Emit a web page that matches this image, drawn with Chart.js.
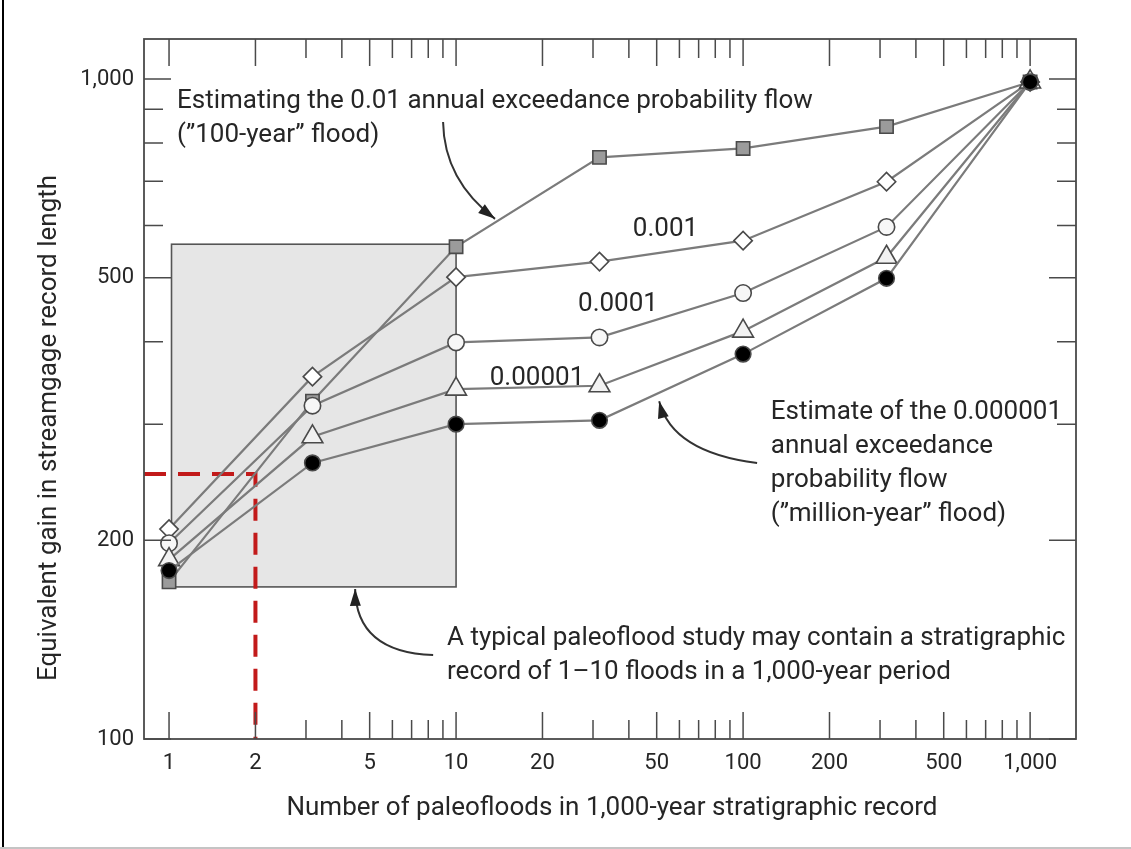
<!DOCTYPE html>
<html>
<head>
<meta charset="utf-8">
<style>
  html, body { margin: 0; padding: 0; background: #fff; }
  #wrap { position: relative; width: 1131px; height: 849px; }
</style>
<script src="https://cdn.jsdelivr.net/npm/chart.js@4.4.1/dist/chart.umd.min.js"></script>
</head>
<body>
<div id="wrap"><canvas id="paleoChart" width="1131" height="849"></canvas></div>
<script>
// number of paleofloods (x) and equivalent gain (y) for each exceedance probability
const floodCounts = [1, 3.16, 10, 31.6, 100, 316, 1000];
const gainAep01 = [173, 325, 557, 761, 785, 847, 990];
const gainAep001 = [208, 354, 501, 529, 569, 699, 990];
const gainAep0001 = [198, 320, 399, 406, 474, 597, 990];
const gainAep00001 = [187, 287, 339, 343, 415, 537, 990];
const gainAep000001 = [180, 262, 300, 304, 383, 499, 990];
const seriesLabels = ["0.01", "0.001", "0.0001", "0.00001", "0.000001"];

// typical paleoflood study box and red reference line
const studyBoxX = [1.02, 10];
const studyBoxY = [170, 562];
const refFloods = 2;
const refGain = 252;

// axes
const xMin = 0.818, xMax = 1445;
const yMin = 100, yMax = 1150;
const xMajorTicks = [1, 2, 5, 10, 20, 50, 100, 200, 500, 1000];
const xTickLabels = ["1", "2", "5", "10", "20", "50", "100", "200", "500", "1,000"];
const xMinorTicks = [3, 4, 6, 7, 8, 9, 30, 40, 60, 70, 80, 90, 300, 400, 600, 700, 800, 900];
const yMajorTicks = [100, 200, 500, 1000];
const yTickLabels = ["100", "200", "500", "1,000"];
const yMinorTicks = [300, 400, 600, 700, 800, 900];

const FONT = "Roboto, 'Liberation Sans', sans-serif";
const TEXT = "#262626";
const LINE = "#7b7b7b";
const EDGE = "#4a4a4a";

// annotations, anchored in data space
const notes = [
    { x: 1.066, y: 924, lines: ["Estimating the 0.01 annual exceedance probability flow", "(\u201d100-year\u201d flood)"] },
    { x: 41.3, y: 591, lines: ["0.001"] },
    { x: 26.6, y: 455, lines: ["0.0001"] },
    { x: 13.1, y: 352, lines: ["0.00001"] },
    { x: 124.9, y: 312, lines: ["Estimate of the 0.000001", "annual exceedance", "probability flow", "(\u201dmillion-year\u201d flood)"] },
    { x: 9.3, y: 142, lines: ["A typical paleoflood study may contain a stratigraphic", "record of 1\u201310 floods in a 1,000-year period"] }
];
const arrows = [
    { from: [9.01, 861], ctrl: [9.08, 703], to: [13.67, 614] },
    { from: [111.9, 262], ctrl: [56.6, 272], to: [51.0, 325] },
    { from: [8.32, 134], ctrl: [4.48, 135.4], to: [4.45, 168.8] }
];

function toPoints(values) {
    return floodCounts.map((x, i) => ({ x: x, y: values[i] }));
}

// lower order is drawn on top, so the black dots end up above the others
function seriesDataset(label, values, style, radius, fillColor, order) {
    return {
        label: label,
        data: toPoints(values),
        borderColor: LINE,
        borderWidth: 2.2,
        fill: false,
        tension: 0,
        pointStyle: style,
        pointRadius: radius,
        pointBackgroundColor: fillColor,
        pointBorderColor: EDGE,
        pointBorderWidth: 1.6,
        order: order
    };
}

const studyBoxPlugin = {
    id: "studyBox",
    beforeDatasetsDraw(chart) {
        const { ctx, scales: { x, y } } = chart;
        const x0 = x.getPixelForValue(studyBoxX[0]);
        const x1 = x.getPixelForValue(studyBoxX[1]);
        const y0 = y.getPixelForValue(studyBoxY[1]);
        const y1 = y.getPixelForValue(studyBoxY[0]);
        ctx.save();
        ctx.fillStyle = "#e6e6e6";
        ctx.fillRect(x0, y0, x1 - x0, y1 - y0);
        ctx.strokeStyle = "#555";
        ctx.lineWidth = 1.6;
        ctx.strokeRect(x0, y0, x1 - x0, y1 - y0);
        ctx.restore();
    }
};

function drawArrow(ctx, p0, c, p1) {
    ctx.beginPath();
    ctx.moveTo(p0[0], p0[1]);
    ctx.quadraticCurveTo(c[0], c[1], p1[0], p1[1]);
    ctx.stroke();
    const ang = Math.atan2(p1[1] - c[1], p1[0] - c[0]);
    const len = 17, half = 5.5;
    const bx = p1[0] - len * Math.cos(ang), by = p1[1] - len * Math.sin(ang);
    ctx.beginPath();
    ctx.moveTo(p1[0], p1[1]);
    ctx.lineTo(bx + half * Math.sin(ang), by - half * Math.cos(ang));
    ctx.lineTo(bx - half * Math.sin(ang), by + half * Math.cos(ang));
    ctx.closePath();
    ctx.fill();
}

const framePlugin = {
    id: "frame",
    afterDraw(chart) {
        const { ctx, chartArea: a, scales: { x, y } } = chart;
        ctx.save();

        // plot border and inward ticks on all four sides
        ctx.strokeStyle = EDGE;
        ctx.lineWidth = 1.8;
        ctx.strokeRect(a.left, a.top, a.right - a.left, a.bottom - a.top);
        ctx.lineWidth = 1.5;
        const tick = (vals, len) => {
            vals.forEach(v => {
                const px = x.getPixelForValue(v);
                ctx.beginPath();
                ctx.moveTo(px, a.bottom); ctx.lineTo(px, a.bottom - len);
                ctx.moveTo(px, a.top); ctx.lineTo(px, a.top + len);
                ctx.stroke();
            });
        };
        const ytick = (vals, len) => {
            vals.forEach(v => {
                const py = y.getPixelForValue(v);
                ctx.beginPath();
                ctx.moveTo(a.left, py); ctx.lineTo(a.left + len, py);
                ctx.moveTo(a.right, py); ctx.lineTo(a.right - len, py);
                ctx.stroke();
            });
        };
        tick(xMajorTicks, 27);
        tick(xMinorTicks, 19);
        ytick(yMajorTicks, 27);
        ytick(yMinorTicks, 19);

        // annotation text
        ctx.fillStyle = TEXT;
        ctx.font = "26px " + FONT;
        ctx.textAlign = "left";
        ctx.textBaseline = "middle";
        notes.forEach(n => {
            const px = x.getPixelForValue(n.x);
            const py = y.getPixelForValue(n.y);
            n.lines.forEach((t, i) => ctx.fillText(t, px, py + i * 34));
        });

        // arrows
        ctx.strokeStyle = "#333";
        ctx.fillStyle = "#222";
        ctx.lineWidth = 2;
        arrows.forEach(ar => {
            const p = v => [x.getPixelForValue(v[0]), y.getPixelForValue(v[1])];
            drawArrow(ctx, p(ar.from), p(ar.ctrl), p(ar.to));
        });

        // axis titles
        ctx.fillStyle = TEXT;
        ctx.font = "26px " + FONT;
        ctx.textAlign = "center";
        ctx.textBaseline = "middle";
        ctx.fillText("Number of paleofloods in 1,000-year stratigraphic record", 612, 808);
        ctx.save();
        ctx.translate(49, 428);
        ctx.rotate(-Math.PI / 2);
        ctx.fillText("Equivalent gain in streamgage record length", 0, 0);
        ctx.restore();

        // outer figure border
        ctx.fillStyle = "#000";
        ctx.fillRect(2, 0, 2, 849);
        ctx.fillStyle = "#c4c4c4";
        ctx.fillRect(0, 847, 1131, 2);
        ctx.restore();
    }
};

const ctx = document.getElementById("paleoChart").getContext("2d");
new Chart(ctx, {
    type: "line",
    data: {
        datasets: [
            {
                label: "reference",
                data: [{ x: xMin, y: refGain }, { x: refFloods, y: refGain }, { x: refFloods, y: yMin }],
                borderColor: "#c21a1a",
                borderWidth: 4,
                borderDash: [22, 12],
                pointRadius: 0,
                fill: false,
                order: 10
            },
            seriesDataset(seriesLabels[0], gainAep01, "rect", 9.4, "#9b9b9b", 5),
            seriesDataset(seriesLabels[1], gainAep001, "rectRot", 9.2, "#ffffff", 4),
            seriesDataset(seriesLabels[2], gainAep0001, "circle", 8.2, "#f7f7f7", 3),
            seriesDataset(seriesLabels[3], gainAep00001, "triangle", 12, "#f2f2f2", 2),
            seriesDataset(seriesLabels[4], gainAep000001, "circle", 7.8, "#000000", 1)
        ]
    },
    options: {
        responsive: false,
        animation: false,
        devicePixelRatio: 1,
        layout: { padding: { left: 0, right: 55, top: 39, bottom: 0 } },
        plugins: {
            legend: { display: false },
            tooltip: { enabled: false }
        },
        scales: {
            x: {
                type: "logarithmic",
                min: xMin,
                max: xMax,
                afterBuildTicks: s => { s.ticks = xMajorTicks.map(v => ({ value: v })); },
                afterFit: s => { s.height = 110; },
                grid: { display: false, drawTicks: false },
                border: { display: false },
                ticks: {
                    autoSkip: false,
                    maxRotation: 0,
                    padding: 11,
                    color: TEXT,
                    font: { family: FONT, size: 22 },
                    callback: v => {
                        const i = xMajorTicks.indexOf(v);
                        return i >= 0 ? xTickLabels[i] : "";
                    }
                }
            },
            y: {
                type: "logarithmic",
                min: yMin,
                max: yMax,
                afterBuildTicks: s => { s.ticks = yMajorTicks.map(v => ({ value: v })); },
                afterFit: s => { s.width = 144; },
                grid: { display: false, drawTicks: false },
                border: { display: false },
                ticks: {
                    autoSkip: false,
                    padding: 10,
                    color: TEXT,
                    font: { family: FONT, size: 22 },
                    callback: v => {
                        const i = yMajorTicks.indexOf(v);
                        return i >= 0 ? yTickLabels[i] : "";
                    }
                }
            }
        }
    },
    plugins: [studyBoxPlugin, framePlugin]
});
</script>
</body>
</html>
